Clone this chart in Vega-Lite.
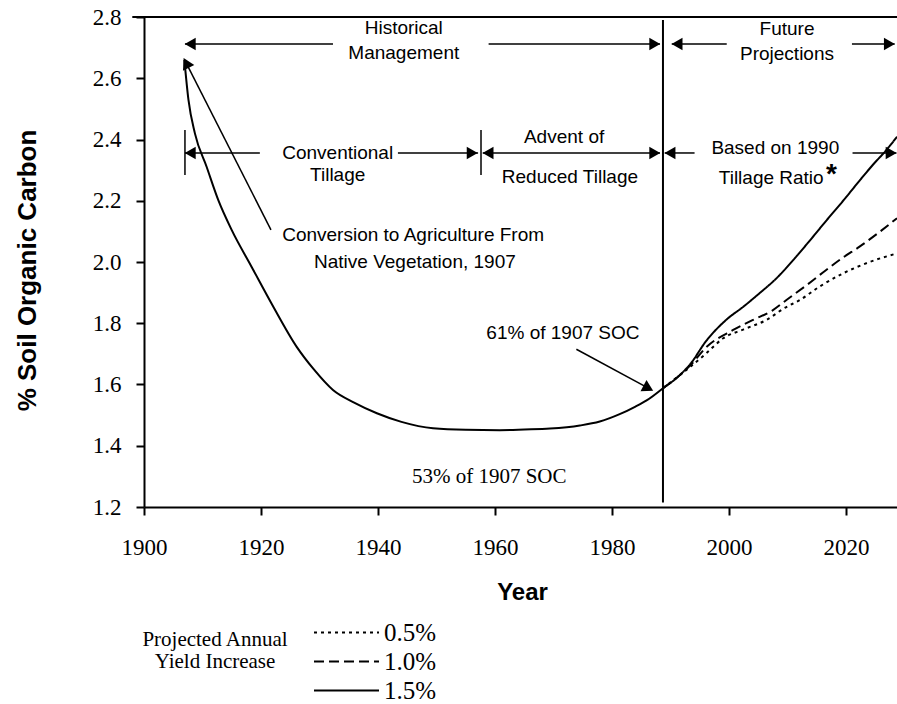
{
  "$schema": "https://vega.github.io/schema/vega-lite/v6.json",
  "width": 753,
  "height": 490,
  "autosize": {"type": "none"},
  "padding": {"left": 144, "top": 17, "right": 0, "bottom": 197},
  "background": "white",
  "config": {"view": {"stroke": null}, "font": "Liberation Sans"},
  "datasets": {
    "historical": [
      {"year": 1906.9, "value": 2.66}, {"year": 1907.6, "value": 2.529}, {"year": 1908.7, "value": 2.42},
      {"year": 1910.7, "value": 2.311}, {"year": 1912.7, "value": 2.202}, {"year": 1915.0, "value": 2.104},
      {"year": 1918.4, "value": 1.984}, {"year": 1922.1, "value": 1.854}, {"year": 1926.1, "value": 1.723},
      {"year": 1929.0, "value": 1.65}, {"year": 1932.3, "value": 1.582}, {"year": 1936.0, "value": 1.54},
      {"year": 1939.8, "value": 1.506}, {"year": 1944.0, "value": 1.478}, {"year": 1949.4, "value": 1.457},
      {"year": 1955.0, "value": 1.452}, {"year": 1960.8, "value": 1.451}, {"year": 1965.0, "value": 1.453},
      {"year": 1969.4, "value": 1.456}, {"year": 1974.5, "value": 1.466}, {"year": 1977.9, "value": 1.479},
      {"year": 1981.3, "value": 1.503}, {"year": 1984.0, "value": 1.528}, {"year": 1985.9, "value": 1.548},
      {"year": 1988.7, "value": 1.588}
    ],
    "proj": [
      {"rate": "0.5%", "year": 1988.7, "value": 1.588}, {"rate": "0.5%", "year": 1991.6, "value": 1.631},
      {"rate": "0.5%", "year": 1993.5, "value": 1.66}, {"rate": "0.5%", "year": 1996.0, "value": 1.70},
      {"rate": "0.5%", "year": 1999.0, "value": 1.751}, {"rate": "0.5%", "year": 2002.5, "value": 1.78},
      {"rate": "0.5%", "year": 2006.4, "value": 1.811}, {"rate": "0.5%", "year": 2009.5, "value": 1.85},
      {"rate": "0.5%", "year": 2012.1, "value": 1.876}, {"rate": "0.5%", "year": 2015.5, "value": 1.92},
      {"rate": "0.5%", "year": 2019.5, "value": 1.963}, {"rate": "0.5%", "year": 2024.0, "value": 2.0},
      {"rate": "0.5%", "year": 2028.7, "value": 2.028},
      {"rate": "1.0%", "year": 1988.7, "value": 1.588}, {"rate": "1.0%", "year": 1991.6, "value": 1.631},
      {"rate": "1.0%", "year": 1993.5, "value": 1.665}, {"rate": "1.0%", "year": 1996.0, "value": 1.72},
      {"rate": "1.0%", "year": 2000.7, "value": 1.778}, {"rate": "1.0%", "year": 2004.0, "value": 1.81},
      {"rate": "1.0%", "year": 2007.5, "value": 1.843}, {"rate": "1.0%", "year": 2009.8, "value": 1.876},
      {"rate": "1.0%", "year": 2013.3, "value": 1.925}, {"rate": "1.0%", "year": 2016.6, "value": 1.974},
      {"rate": "1.0%", "year": 2019.5, "value": 2.015}, {"rate": "1.0%", "year": 2022.3, "value": 2.05},
      {"rate": "1.0%", "year": 2025.5, "value": 2.095}, {"rate": "1.0%", "year": 2028.7, "value": 2.143},
      {"rate": "1.5%", "year": 1988.7, "value": 1.588}, {"rate": "1.5%", "year": 1991.6, "value": 1.631},
      {"rate": "1.5%", "year": 1993.5, "value": 1.67}, {"rate": "1.5%", "year": 1996.0, "value": 1.74},
      {"rate": "1.5%", "year": 1999.5, "value": 1.811}, {"rate": "1.5%", "year": 2002.5, "value": 1.855},
      {"rate": "1.5%", "year": 2005.2, "value": 1.898}, {"rate": "1.5%", "year": 2008.0, "value": 1.945},
      {"rate": "1.5%", "year": 2011.0, "value": 2.007}, {"rate": "1.5%", "year": 2013.8, "value": 2.07},
      {"rate": "1.5%", "year": 2016.7, "value": 2.137}, {"rate": "1.5%", "year": 2019.5, "value": 2.2},
      {"rate": "1.5%", "year": 2022.4, "value": 2.268}, {"rate": "1.5%", "year": 2024.7, "value": 2.32},
      {"rate": "1.5%", "year": 2026.9, "value": 2.366}, {"rate": "1.5%", "year": 2028.7, "value": 2.409}
    ],
    "arrows": [
      {"year": 1907.0, "year2": 1932.3, "value": 2.712, "value2": 2.712},
      {"year": 1958.9, "year2": 1988.2, "value": 2.712, "value2": 2.712},
      {"year": 1990.2, "year2": 1999.6, "value": 2.712, "value2": 2.712},
      {"year": 2021.0, "year2": 2028.3, "value": 2.712, "value2": 2.712},
      {"year": 1907.0, "year2": 1919.8, "value": 2.356, "value2": 2.356},
      {"year": 1943.4, "year2": 1957.1, "value": 2.356, "value2": 2.356},
      {"year": 1957.9, "year2": 1988.2, "value": 2.356, "value2": 2.356},
      {"year": 1989.0, "year2": 1994.1, "value": 2.356, "value2": 2.356},
      {"year": 2021.1, "year2": 2028.6, "value": 2.356, "value2": 2.356},
      {"year": 1907.0, "year2": 1907.0, "value": 2.431, "value2": 2.284},
      {"year": 1957.6, "year2": 1957.6, "value": 2.431, "value2": 2.284},
      {"year": 1921.7, "year2": 1907.2, "value": 2.105, "value2": 2.65},
      {"year": 1973.9, "year2": 1986.2, "value": 1.715, "value2": 1.588}
    ],
    "frame": [
      {"year": 1988.7, "year2": 1988.7, "value": 2.79, "value2": 1.215},
      {"year": 1898.0, "year2": 2028.7, "value": 2.8, "value2": 2.8}
    ],
    "leftHeads": [
      {"year": 1907.9, "value": 2.712}, {"year": 1991.1, "value": 2.712}, {"year": 1907.9, "value": 2.356},
      {"year": 1958.8, "value": 2.356}, {"year": 1989.9, "value": 2.356}
    ],
    "rightHeads": [
      {"year": 1987.3, "value": 2.712}, {"year": 2027.4, "value": 2.712}, {"year": 1956.1, "value": 2.356},
      {"year": 1987.3, "value": 2.356}, {"year": 2027.7, "value": 2.356}
    ],
    "convHead": [{"year": 1907.2, "value": 2.65}],
    "socHead": [{"year": 1986.2, "value": 1.588}],
    "sansText": [
      {"year": 1944.4, "value": 2.764, "label": "Historical"},
      {"year": 1944.4, "value": 2.682, "label": "Management"},
      {"year": 2009.9, "value": 2.761, "label": "Future"},
      {"year": 2009.9, "value": 2.679, "label": "Projections"},
      {"year": 1933.1, "value": 2.356, "label": "Conventional"},
      {"year": 1933.1, "value": 2.284, "label": "Tillage"},
      {"year": 1971.8, "value": 2.408, "label": "Advent of"},
      {"year": 1972.8, "value": 2.278, "label": "Reduced Tillage"},
      {"year": 2007.9, "value": 2.372, "label": "Based on 1990"},
      {"year": 2007.2, "value": 2.274, "label": "Tillage Ratio"},
      {"year": 1946.0, "value": 2.088, "label": "Conversion to Agriculture From"},
      {"year": 1946.3, "value": 2.0, "label": "Native Vegetation, 1907"},
      {"year": 1971.6, "value": 1.768, "label": "61% of 1907 SOC"}
    ],
    "serifText": [{"year": 1959.0, "value": 1.298, "label": "53% of 1907 SOC"}],
    "star": [{"year": 2017.5, "value": 2.284, "label": "*"}]
  },
  "encoding": {
    "x": {
      "field": "year", "type": "quantitative",
      "scale": {"domain": [1900, 2028.7], "nice": false, "zero": false},
      "axis": {
        "values": [1900, 1920, 1940, 1960, 1980, 2000, 2020], "format": "d",
        "labelFont": "Liberation Serif", "labelFontSize": 23, "labelColor": "black",
        "labelFlush": false, "labelOverlap": false, "labelPadding": 21,
        "tickColor": "black", "tickSize": 8, "tickWidth": 2,
        "domainColor": "black", "domainWidth": 2, "grid": false,
        "title": "Year", "titleFont": "Liberation Sans", "titleFontSize": 24, "titleFontWeight": "bold",
        "titleColor": "black", "titleX": 378, "titleY": 85, "titleAlign": "center", "titleBaseline": "middle"
      }
    },
    "y": {
      "field": "value", "type": "quantitative",
      "scale": {"domain": [1.2, 2.8], "nice": false, "zero": false},
      "axis": {
        "values": [1.2, 1.4, 1.6, 1.8, 2.0, 2.2, 2.4, 2.6, 2.8], "format": ".1f",
        "labelFont": "Liberation Serif", "labelFontSize": 23, "labelColor": "black",
        "labelFlush": false, "labelOverlap": false, "labelPadding": 15,
        "tickColor": "black", "tickSize": 8, "tickWidth": 2,
        "domainColor": "black", "domainWidth": 2, "grid": false,
        "title": "% Soil Organic Carbon", "titleFont": "Liberation Sans", "titleFontSize": 26,
        "titleFontWeight": "bold", "titleColor": "black", "titleX": -117, "titleY": 253,
        "titleAngle": -90, "titleAlign": "center", "titleBaseline": "middle"
      }
    }
  },
  "layer": [
    {
      "data": {"name": "frame"},
      "mark": {"type": "rule", "color": "black", "strokeWidth": 2},
      "encoding": {"x2": {"field": "year2"}, "y2": {"field": "value2"}}
    },
    {
      "data": {"name": "historical"},
      "mark": {"type": "line", "color": "black", "strokeWidth": 2, "interpolate": "monotone"}
    },
    {
      "data": {"name": "proj"},
      "mark": {"type": "line", "color": "black", "strokeWidth": 2, "interpolate": "monotone"},
      "encoding": {
        "strokeDash": {
          "field": "rate", "type": "nominal",
          "scale": {"domain": ["0.5%", "1.0%", "1.5%"], "range": [[3, 4], [10, 5], [1, 0]]},
          "legend": {
            "orient": "none", "legendX": -2, "legendY": 603,
            "title": ["Projected Annual", "Yield Increase", ""],
            "titleOrient": "left", "titleFont": "Liberation Serif", "titleFontSize": 21,
            "titleFontWeight": "normal", "titleColor": "black", "titleAlign": "center",
            "titleAnchor": "middle", "titlePadding": -49, "titleLineHeight": 22,
            "labelFont": "Liberation Serif", "labelFontSize": 25, "labelColor": "black", "labelOffset": 4,
            "symbolType": "stroke", "symbolSize": 4225, "symbolStrokeWidth": 2,
            "symbolStrokeColor": "black", "rowPadding": 3, "clipHeight": 25
          }
        }
      }
    },
    {
      "data": {"name": "arrows"},
      "mark": {"type": "rule", "color": "black", "strokeWidth": 1.5},
      "encoding": {"x2": {"field": "year2"}, "y2": {"field": "value2"}}
    },
    {
      "data": {"name": "leftHeads"},
      "mark": {"type": "point", "shape": "triangle-left", "filled": true, "color": "black", "opacity": 1, "size": 160}
    },
    {
      "data": {"name": "rightHeads"},
      "mark": {"type": "point", "shape": "triangle-right", "filled": true, "color": "black", "opacity": 1, "size": 160}
    },
    {
      "data": {"name": "convHead"},
      "mark": {"type": "point", "shape": "triangle-up", "angle": 333, "filled": true, "color": "black", "opacity": 1, "size": 160}
    },
    {
      "data": {"name": "socHead"},
      "mark": {"type": "point", "shape": "triangle-up", "angle": 118, "filled": true, "color": "black", "opacity": 1, "size": 160}
    },
    {
      "data": {"name": "sansText"},
      "mark": {"type": "text", "font": "Liberation Sans", "fontSize": 19, "color": "black", "align": "center", "baseline": "middle"},
      "encoding": {"text": {"field": "label"}}
    },
    {
      "data": {"name": "serifText"},
      "mark": {"type": "text", "font": "Liberation Serif", "fontSize": 21, "color": "black", "align": "center", "baseline": "middle"},
      "encoding": {"text": {"field": "label"}}
    },
    {
      "data": {"name": "star"},
      "mark": {"type": "text", "font": "Liberation Sans", "fontSize": 28, "fontWeight": "bold", "color": "black", "align": "center", "baseline": "middle"},
      "encoding": {"text": {"field": "label"}}
    }
  ]
}
